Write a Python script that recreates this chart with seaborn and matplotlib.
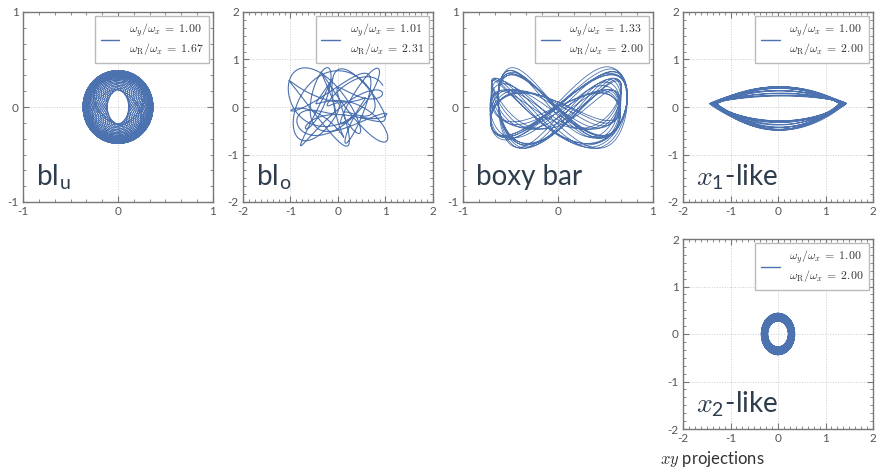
import numpy as np
import pandas as pd
import seaborn as sns
import matplotlib
matplotlib.use('Agg')
import matplotlib.pyplot as plt
from matplotlib.lines import Line2D
from matplotlib.ticker import MultipleLocator, AutoMinorLocator

# Panel info
panel_names = ['bl$_\\mathregular{u}$', 'bl$_\\mathregular{o}$', 'boxy bar',
               '$x_\\mathregular{1}$-like', '$x_\\mathregular{2}$-like']
axis_limits = [1, 2, 1, 2, 2]
# frequency ratios (legend shows them rounded to 2 decimals)
freq_y = [1.000, 1.0102, 1.3312, 1.000, 1.000]   # omega_y / omega_x
freq_R = [1.6749, 2.3087, 2.0049, 1.9968, 2.000]  # omega_R / omega_x

# orbit shape parameters (amplitudes)
amp_blu = [0.24, 0.13, 0.28, 0.105]
amp_blo = [0.60, 0.45, 0.50, 0.33]
freq_blo = [1.57, 2.93]
amp_boxy = [0.68, 0.05, 0.28, 0.13, 0.04]
freq_boxy = [2.71]
amp_x1 = [1.36, 0.08, 0.30, 0.10]
amp_x2 = [0.285, 0.065, 0.355, 0.08]

color = '#4C72B0'


def orbit(i):
    wy, wR = freq_y[i], freq_R[i]
    if i == 0:
        t = np.linspace(0, 2 * np.pi * 45, 24000)
        a, b, c, d = amp_blu
        x = a * np.cos(t) + b * np.cos(wR * t)
        y = c * np.sin(wy * t) + d * np.sin(wR * t)
    elif i == 1:
        t = np.linspace(0, 2 * np.pi * 7, 5000)
        a, b, c, d = amp_blo
        x = a * np.cos(wy * t) + b * np.cos(wR * t + 0.7)
        y = c * np.sin(freq_blo[0] * t + 0.3) + d * np.sin(freq_blo[1] * t + 1.2)
    elif i == 2:
        t = np.linspace(0, 2 * np.pi * 20, 12000)
        a, b, c, d, e = amp_boxy
        x = a * np.cos(t) + b * np.cos(wy * t)
        y = (c * np.sin(wR * t) + d * np.sin(wy * t + 0.4)
             + e * np.sin(freq_boxy[0] * t) - 0.02)
    elif i == 3:
        t = np.linspace(0, 2 * np.pi * 14, 9000)
        a, b, c, d = amp_x1
        x = (a + b * np.cos(0.13 * t)) * np.cos(t)
        B = c + d * np.sin(0.09 * t)
        y = (B * np.sin(wy * t) * np.abs(np.sin(t)) + 0.06 * np.sin(t)
             + 0.05 * np.cos(wR * t) + 0.02)
    else:
        t = np.linspace(0, 2 * np.pi * 40, 12000)
        a, b, c, d = amp_x2
        x = (a + b * np.cos(0.05 * t)) * np.cos(t)
        y = (c + d * np.cos(0.05 * t)) * np.sin(wy * t)
    return pd.DataFrame({'x': x, 'y': y})


sns.set_style('ticks')
plt.rcParams['font.family'] = ['Lato', 'DejaVu Sans']
plt.rcParams['mathtext.fontset'] = 'cm'
plt.rcParams['axes.unicode_minus'] = False

fig = plt.figure(figsize=(8.78, 4.72), dpi=100)
W, H = 878, 472
boxes = [(23, 12), (243, 12), (463, 12), (683, 12), (683, 239)]
size = 190
widths = [0.5, 0.8, 0.6, 0.7, 0.8]

for i, (px, py) in enumerate(boxes):
    ax = fig.add_axes([px / W, 1 - (py + size) / H, size / W, size / H])
    df = orbit(i)
    sns.lineplot(data=df, x='x', y='y', sort=False, estimator=None,
                 color=color, lw=widths[i], ax=ax)
    lim = axis_limits[i]
    ax.set_xlim(-lim, lim)
    ax.set_ylim(-lim, lim)
    ax.set_xlabel('')
    ax.set_ylabel('')
    ax.xaxis.set_major_locator(MultipleLocator(1))
    ax.yaxis.set_major_locator(MultipleLocator(1))
    ax.xaxis.set_minor_locator(AutoMinorLocator(6 if lim == 1 else 8))
    ax.yaxis.set_minor_locator(AutoMinorLocator(6))
    ax.tick_params(which='both', direction='in', top=True, right=True,
                   color='#777777', labelsize=8.5, labelcolor='#555555', pad=3)
    ax.tick_params(which='major', length=4)
    ax.tick_params(which='minor', length=2.5)
    ax.grid(True, which='major', ls=':', color='#cccccc', lw=0.7)
    for s in ax.spines.values():
        s.set_color('#777777')
        s.set_linewidth(1)
    lab = (f'$\\omega_y/\\omega_x\\;=\\;{freq_y[i]:.2f}$\n'
           f'$\\omega_\\mathrm{{R}}/\\omega_x\\;=\\;{freq_R[i]:.2f}$')
    h = Line2D([], [], color=color, lw=1)
    ax.legend([h], [lab], loc='upper right', fontsize=8.5, fancybox=False,
              edgecolor='#bbbbbb', framealpha=1, handlelength=1.6,
              borderpad=0.45, borderaxespad=0.35, labelcolor='#333333')
    ax.text(0.07, 0.09, panel_names[i], transform=ax.transAxes,
            fontsize=20, color='#2e3d4d', ha='left', va='baseline')

fig.text(660 / W, 0.006, '$xy$ projections', fontsize=12, color='#333333',
         ha='left', va='bottom')

fig.savefig('out.png', dpi=100)
